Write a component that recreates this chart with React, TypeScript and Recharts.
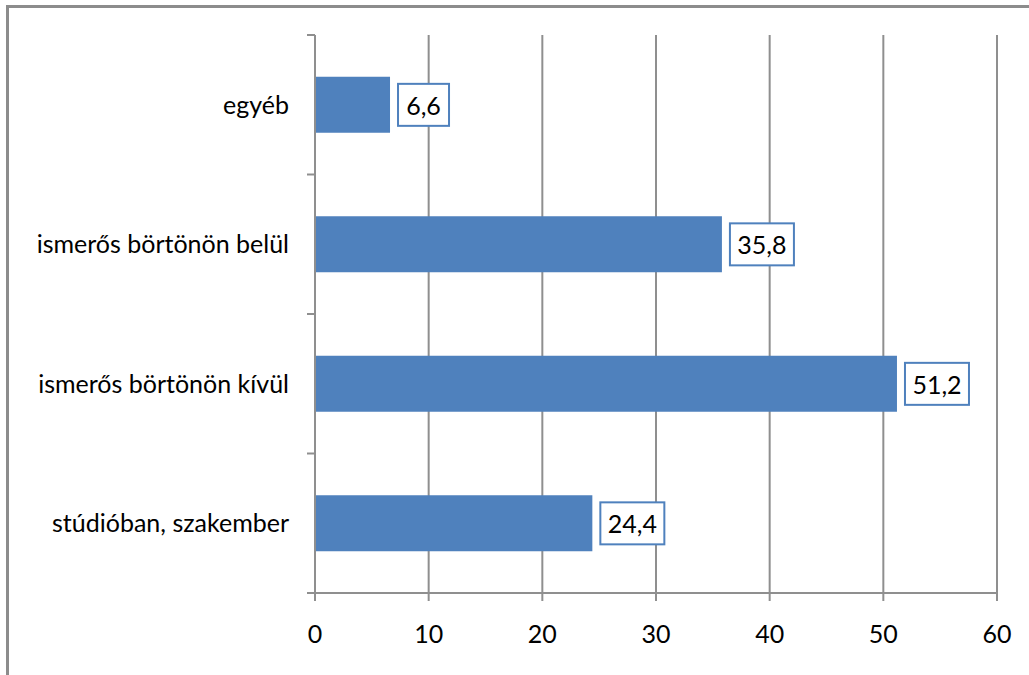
import { BarChart, Bar, XAxis, YAxis, CartesianGrid, LabelList } from 'recharts';

const categories = ['egyéb', 'ismerős börtönön belül', 'ismerős börtönön kívül', 'stúdióban, szakember'];
const values = [6.6, 35.8, 51.2, 24.4];
const xTicks = [0, 10, 20, 30, 40, 50, 60];

const data = categories.map((name, i) => ({ name, value: values[i] }));

const FONT = 'Lato, "Open Sans", sans-serif';
const BLUE = '#4F81BD';
const GRID = '#8f8f8f';
const TICK_SIZE = 8;
const TICK_MARGIN = 18;

const fmt = (v: number) => String(v).replace('.', ',');

// boxed value label to the right of the bar end
const BoxLabel = (props: any) => {
  const { x, y, width, height, value } = props;
  const text = fmt(value);
  const digits = text.replace(',', '').length;
  const w = digits * 13 + 25;
  const h = 42;
  const bx = x + width + 8;
  const by = y + height / 2 - h / 2;
  return (
    <g>
      <rect x={bx} y={by} width={w} height={h} fill="#fff" stroke={BLUE} strokeWidth={2} />
      <text
        x={bx + w / 2}
        y={by + h / 2}
        textAnchor="middle"
        dominantBaseline="central"
        fontFamily={FONT}
        fontSize={25}
        fill="#000"
      >
        {text}
      </text>
    </g>
  );
};

// category label plus tick marks on the band edges (between categories)
const CategoryTick = (props: any) => {
  const { x, y, payload, index, visibleTicksCount } = props;
  const half = payload?.offset ?? 0;
  const x1 = x + TICK_MARGIN;
  const x2 = x1 + TICK_SIZE;
  return (
    <g>
      <line x1={x1} x2={x2} y1={y - half} y2={y - half} stroke={GRID} strokeWidth={2} />
      {index === visibleTicksCount - 1 && (
        <line x1={x1} x2={x2} y1={y + half} y2={y + half} stroke={GRID} strokeWidth={2} />
      )}
      <text x={x} y={y} dy="0.355em" textAnchor="end" fontFamily={FONT} fontSize={25} fill="#000">
        {payload.value}
      </text>
    </g>
  );
};

export default function App() {
  return (
    <div
      style={{
        position: 'absolute',
        left: 0,
        top: 0,
        width: 1029,
        height: 675,
        overflow: 'hidden',
        background: '#fff',
      }}
    >
      <div
        style={{
          position: 'absolute',
          left: 6,
          top: 5,
          width: 1100,
          height: 800,
          border: '3px solid #8c8c8c',
          boxSizing: 'border-box',
        }}
      />
      <div style={{ position: 'absolute', left: 0, top: 0 }}>
        <BarChart
          width={1029}
          height={675}
          data={data}
          layout="vertical"
          margin={{ top: 35, right: 32, bottom: 0, left: 0 }}
          barCategoryGap="30%"
        >
          <CartesianGrid horizontal={false} stroke={GRID} strokeWidth={2} />
          <XAxis
            type="number"
            domain={[0, 60]}
            ticks={xTicks}
            height={82}
            tickSize={TICK_SIZE}
            tickMargin={24}
            axisLine={{ stroke: GRID, strokeWidth: 2 }}
            tickLine={{ stroke: GRID, strokeWidth: 2 }}
            tick={{ fontFamily: FONT, fontSize: 25, fill: '#000' }}
          />
          <YAxis
            type="category"
            dataKey="name"
            width={315}
            interval={0}
            axisLine={{ stroke: GRID, strokeWidth: 2 }}
            tickLine={false}
            tickSize={TICK_SIZE}
            tickMargin={TICK_MARGIN}
            tick={CategoryTick}
          />
          <Bar dataKey="value" fill={BLUE} isAnimationActive={false}>
            <LabelList dataKey="value" content={BoxLabel} />
          </Bar>
        </BarChart>
      </div>
    </div>
  );
}
